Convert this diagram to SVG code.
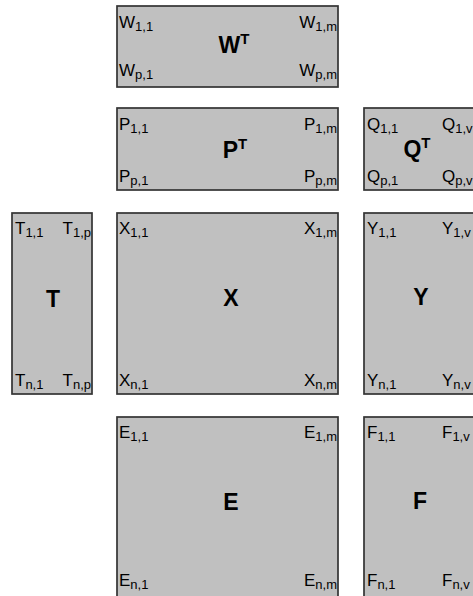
<svg xmlns="http://www.w3.org/2000/svg" width="473" height="596" viewBox="0 0 473 596">
<style>
rect.box{fill:#c0c0c0;stroke:#333;stroke-width:1.7}
text{font-family:"Liberation Sans",Arial,sans-serif;fill:#000}
.lbl{font-size:17px}
.sub{font-size:13px}
.big{font-size:23px;font-weight:bold;text-anchor:middle}
.sup{font-size:15px}
.end{text-anchor:end}
</style>
<rect width="473" height="596" fill="#fff"/>
<g id="connectors"/>
<g id="W">
<rect class="box" x="117" y="6" width="221" height="81"/>
<text class="lbl" x="119" y="28">W<tspan class="sub" dy="3">1,1</tspan></text>
<text class="lbl end" x="337" y="28">W<tspan class="sub" dy="3">1,m</tspan></text>
<text class="lbl" x="119" y="76">W<tspan class="sub" dy="3">p,1</tspan></text>
<text class="lbl end" x="337" y="76">W<tspan class="sub" dy="3">p,m</tspan></text>
<text class="big" x="234" y="53">W<tspan class="sup" dy="-9">T</tspan></text>
</g>
<g id="P">
<rect class="box" x="117" y="108" width="221" height="82"/>
<text class="lbl" x="119" y="130">P<tspan class="sub" dy="3">1,1</tspan></text>
<text class="lbl end" x="337" y="130">P<tspan class="sub" dy="3">1,m</tspan></text>
<text class="lbl" x="119" y="182">P<tspan class="sub" dy="3">p,1</tspan></text>
<text class="lbl end" x="337" y="182">P<tspan class="sub" dy="3">p,m</tspan></text>
<text class="big" x="235" y="158">P<tspan class="sup" dy="-9">T</tspan></text>
</g>
<g id="Q">
<rect class="box" x="364" y="108" width="113" height="82"/>
<text class="lbl" x="367" y="130">Q<tspan class="sub" dy="3">1,1</tspan></text>
<text class="lbl" x="442" y="130">Q<tspan class="sub" dy="3">1,v</tspan></text>
<text class="lbl" x="367" y="182">Q<tspan class="sub" dy="3">p,1</tspan></text>
<text class="lbl" x="442" y="182">Q<tspan class="sub" dy="3">p,v</tspan></text>
<text class="big" x="417" y="157">Q<tspan class="sup" dy="-9">T</tspan></text>
</g>
<g id="T">
<rect class="box" x="12" y="213" width="80" height="181"/>
<text class="lbl" x="15" y="234">T<tspan class="sub" dy="3">1,1</tspan></text>
<text class="lbl end" x="91" y="234">T<tspan class="sub" dy="3">1,p</tspan></text>
<text class="lbl" x="15" y="386">T<tspan class="sub" dy="3">n,1</tspan></text>
<text class="lbl end" x="91" y="386">T<tspan class="sub" dy="3">n,p</tspan></text>
<text class="big" x="53" y="307">T</text>
</g>
<g id="X">
<rect class="box" x="117" y="213" width="221" height="181"/>
<text class="lbl" x="119" y="234">X<tspan class="sub" dy="3">1,1</tspan></text>
<text class="lbl end" x="337" y="234">X<tspan class="sub" dy="3">1,m</tspan></text>
<text class="lbl" x="119" y="386">X<tspan class="sub" dy="3">n,1</tspan></text>
<text class="lbl end" x="337" y="386">X<tspan class="sub" dy="3">n,m</tspan></text>
<text class="big" x="231" y="306">X</text>
</g>
<g id="Y">
<rect class="box" x="364" y="213" width="113" height="181"/>
<text class="lbl" x="367" y="234">Y<tspan class="sub" dy="3">1,1</tspan></text>
<text class="lbl" x="442" y="234">Y<tspan class="sub" dy="3">1,v</tspan></text>
<text class="lbl" x="367" y="386">Y<tspan class="sub" dy="3">n,1</tspan></text>
<text class="lbl" x="442" y="386">Y<tspan class="sub" dy="3">n,v</tspan></text>
<text class="big" x="421" y="305">Y</text>
</g>
<g id="E">
<rect class="box" x="117" y="417" width="221" height="182"/>
<text class="lbl" x="119" y="438">E<tspan class="sub" dy="3">1,1</tspan></text>
<text class="lbl end" x="337" y="438">E<tspan class="sub" dy="3">1,m</tspan></text>
<text class="lbl" x="119" y="586">E<tspan class="sub" dy="3">n,1</tspan></text>
<text class="lbl end" x="337" y="586">E<tspan class="sub" dy="3">n,m</tspan></text>
<text class="big" x="231" y="510">E</text>
</g>
<g id="F">
<rect class="box" x="364" y="417" width="113" height="182"/>
<text class="lbl" x="367" y="438">F<tspan class="sub" dy="3">1,1</tspan></text>
<text class="lbl" x="442" y="438">F<tspan class="sub" dy="3">1,v</tspan></text>
<text class="lbl" x="367" y="586">F<tspan class="sub" dy="3">n,1</tspan></text>
<text class="lbl" x="442" y="586">F<tspan class="sub" dy="3">n,v</tspan></text>
<text class="big" x="420" y="509">F</text>
</g>
</svg>
